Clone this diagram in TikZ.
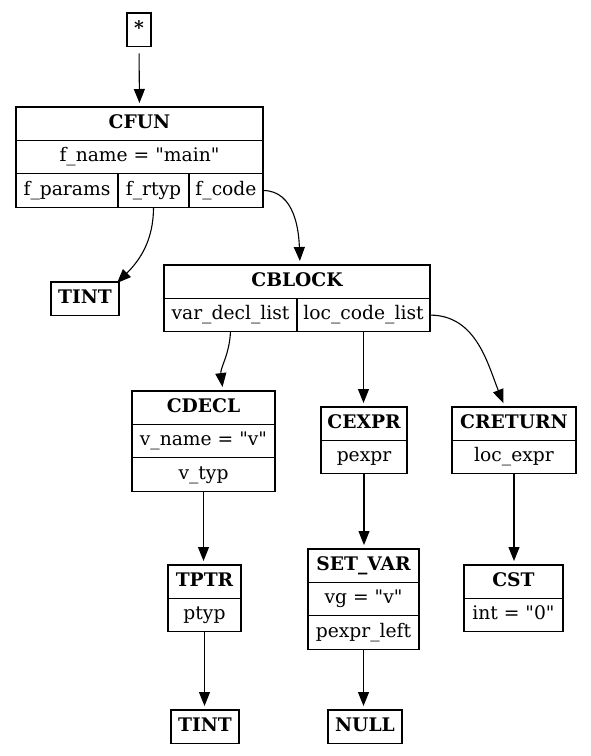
\documentclass[tikz,border=0pt]{standalone}
\usepackage{fontspec}
\setmainfont{DejaVu Serif}[Ligatures=TeXOff]
\usetikzlibrary{arrows.meta,calc}
\begin{document}
\begin{tikzpicture}[x=1pt,y=-1pt,
  fld/.style={draw=black, line width=1.1pt, inner sep=0pt, outer sep=0pt, minimum height=33.4pt,
    text height=14pt, text depth=4.5pt, font=\fontsize{18.7}{22}\selectfont},
  hd/.style={fld, font=\fontsize{18.7}{22}\selectfont\bfseries},
  below/.style={anchor=north},
  rightof/.style={anchor=north west},
  edge/.style={draw=black, line width=1.1pt, shorten >=4pt, -{Triangle[length=14pt,width=11pt]}}]
\fill[white] (0,0) rectangle (591,756);
\useasboundingbox (0,0) rectangle (591,756);
% root
\node[hd, minimum width=24pt, anchor=north] (star) at (139,13) {*};
% CFUN
\node[hd, minimum width=247pt, anchor=north] (cfun) at (139.5,107) {CFUN};
\node[fld, minimum width=247pt, below] (fname) at (cfun.south) {f\_name = "main"};
\node[fld, minimum width=102pt, rightof] (fparams) at (fname.south west) {f\_params};
\node[fld, minimum width=71pt, rightof] (frtyp) at (fparams.north east) {f\_rtyp};
\node[fld, minimum width=74pt, rightof] (fcode) at (frtyp.north east) {f\_code};
% TINT 1
\node[hd, minimum width=68pt, anchor=north] (tintA) at (85,282) {TINT};
% CBLOCK
\node[hd, minimum width=266pt, anchor=north] (cblock) at (297,265) {CBLOCK};
\node[fld, minimum width=133pt, rightof] (vardecl) at (cblock.south west) {var\_decl\_list};
\node[fld, minimum width=133pt, rightof] (loccode) at (vardecl.north east) {loc\_code\_list};
% CDECL
\node[hd, minimum width=143pt, anchor=north] (cdecl) at (203.5,391) {CDECL};
\node[fld, minimum width=143pt, below] (vname) at (cdecl.south) {v\_name = "v"};
\node[fld, minimum width=143pt, below] (vtyp) at (vname.south) {v\_typ};
% CEXPR
\node[hd, minimum width=86pt, anchor=north] (cexpr) at (364,407) {CEXPR};
\node[fld, minimum width=86pt, below] (pexpr) at (cexpr.south) {pexpr};
% CRETURN
\node[hd, minimum width=124pt, anchor=north] (creturn) at (514,407) {CRETURN};
\node[fld, minimum width=124pt, below] (locexpr) at (creturn.south) {loc\_expr};
% TPTR
\node[hd, minimum width=73pt, anchor=north] (tptr) at (204.5,565) {TPTR};
\node[fld, minimum width=73pt, below] (ptyp) at (tptr.south) {ptyp};
% SET_VAR
\node[hd, minimum width=111pt, anchor=north] (setvar) at (363.5,549) {SET\_VAR};
\node[fld, minimum width=111pt, below] (vg) at (setvar.south) {vg = "v"};
\node[fld, minimum width=111pt, below] (pexprleft) at (vg.south) {pexpr\_left};
% CST
\node[hd, minimum width=99pt, anchor=north] (cst) at (513.5,565) {CST};
\node[fld, minimum width=99pt, below] (cstint) at (cst.south) {int = "0"};
% leaves
\node[hd, minimum width=68pt, anchor=north] (tintB) at (205,710) {TINT};
\node[hd, minimum width=74pt, anchor=north] (null) at (365,710) {NULL};
% target coordinates for curved edges
\coordinate (cdeclin) at ($(cdecl.north)+(19.5,0)$);
\coordinate (cretin) at ($(creturn.north)+(-9,0)$);
\coordinate (cblockin) at ($(cblock.north)+(3,0)$);
\coordinate (tintin) at ($(tintA.north east)+(-2,1)$);
% edges
\draw[edge, shorten <=7pt] (star.south) -- (cfun.north);
\draw[edge, shorten >=0pt] (frtyp.south) to[out=-90,in=45] (tintin);
\draw[edge] (fcode.east) to[out=0,in=92] (cblockin);
\draw[edge] (vardecl.south) to[out=-93,in=97] (cdeclin);
\draw[edge] (loccode.south) -- (loccode.south |- cexpr.north);
\draw[edge] (loccode.east) to[out=0,in=112] (cretin);
\draw[edge] (vtyp.south) -- (vtyp.south |- tptr.north);
\draw[edge] (pexpr.south) -- (pexpr.south |- setvar.north);
\draw[edge] (locexpr.south) -- (locexpr.south |- cst.north);
\draw[edge] (ptyp.south) -- (ptyp.south |- tintB.north);
\draw[edge] (pexprleft.south) -- (pexprleft.south |- null.north);
\end{tikzpicture}
\end{document}
